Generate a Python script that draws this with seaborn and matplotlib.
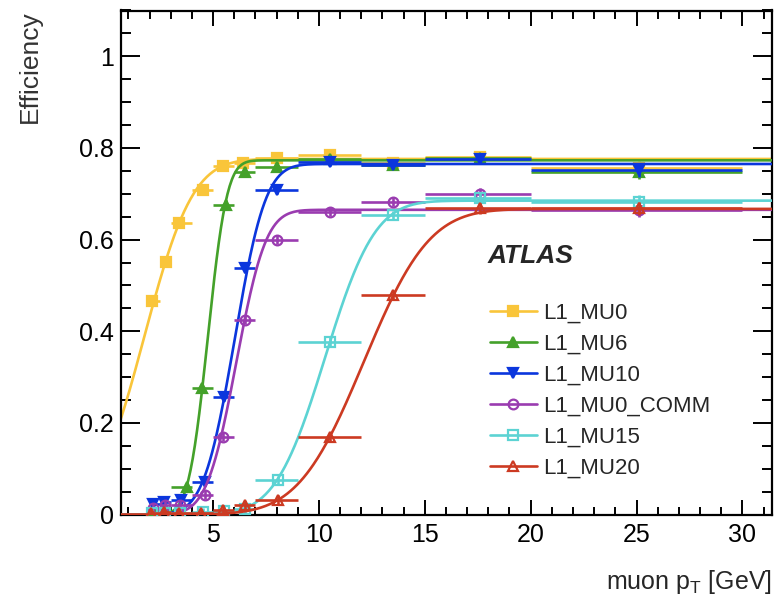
import math
import numpy as np
import pandas as pd
import matplotlib
matplotlib.use("Agg")
import matplotlib.pyplot as plt
import seaborn as sns
from matplotlib.lines import Line2D
from matplotlib.ticker import MultipleLocator

# ---------------- data ----------------
series_names = ["L1_MU0", "L1_MU6", "L1_MU10", "L1_MU0_COMM", "L1_MU15", "L1_MU20"]

bin_lo = [2.0, 2.5, 3.0, 4.0, 5.0, 6.0, 7.0, 9.0, 12.0, 15.0, 20.0]
bin_hi = [2.5, 3.0, 4.0, 5.0, 6.0, 7.0, 9.0, 12.0, 15.0, 20.0, 30.0]

mu0_x = [2.12, 2.78, 3.41, 4.52, 5.46, 6.41, 8.0, 10.52, 13.52, 17.6, 25.1]
mu0_y = [0.466, 0.552, 0.636, 0.709, 0.761, 0.767, 0.778, 0.785, 0.767, 0.781, 0.757]

mu6_x = [2.15, 2.75, 3.77, 4.49, 5.59, 6.49, 8.0, 10.52, 13.52, 17.6, 25.1]
mu6_y = [0.010, 0.015, 0.061, 0.276, 0.676, 0.748, 0.759, 0.775, 0.762, 0.778, 0.748]

mu10_x = [2.15, 2.70, 3.49, 4.60, 5.50, 6.49, 8.0, 10.52, 13.52, 17.6, 25.1]
mu10_y = [0.024, 0.028, 0.032, 0.072, 0.257, 0.538, 0.709, 0.770, 0.763, 0.776, 0.752]

comm_x = [2.15, 2.75, 3.45, 4.60, 5.46, 6.49, 8.0, 10.52, 13.52, 17.6, 25.1]
comm_y = [0.015, 0.020, 0.020, 0.043, 0.170, 0.425, 0.600, 0.661, 0.683, 0.700, 0.665]

mu15_x = [2.10, 2.75, 3.45, 4.50, 5.50, 6.50, 8.07, 10.52, 13.52, 17.6, 25.1]
mu15_y = [0.003, 0.003, 0.003, 0.005, 0.008, 0.012, 0.075, 0.377, 0.653, 0.690, 0.683]

mu20_x = [2.07, 2.70, 3.41, 4.44, 5.47, 6.49, 8.07, 10.52, 13.52, 17.6, 25.1]
mu20_y = [0.003, 0.006, 0.003, 0.003, 0.010, 0.020, 0.032, 0.170, 0.479, 0.668, 0.668]

point_yerr = [0.010, 0.010, 0.010, 0.010, 0.010, 0.010, 0.010, 0.010, 0.010, 0.012, 0.015]

# fitted turn-on curves: plateau, threshold (50% point), resolution
fit_plateau = [0.776, 0.773, 0.765, 0.665, 0.685, 0.667]
fit_mu = [1.75, 4.75, 6.02, 6.10, 10.29, 12.12]
fit_sigma = [1.80, 0.71, 1.15, 1.10, 1.85, 2.43]

colors = ["#F9C53A", "#44A12A", "#0B36DD", "#9A3CB0", "#5CD3D3", "#CC3A22"]
markers = ["s", "^", "v", "o", "s", "^"]
filled = [True, True, True, False, False, False]

xs = [mu0_x, mu6_x, mu10_x, comm_x, mu15_x, mu20_x]
ys = [mu0_y, mu6_y, mu10_y, comm_y, mu15_y, mu20_y]

# ---------------- figure ----------------
sns.set_theme(style="white")
plt.rcParams["font.family"] = ["Liberation Sans", "DejaVu Sans"]

fig = plt.figure(figsize=(7.77, 6.03), dpi=100)
ax = fig.add_axes([121 / 777, 1 - 514.5 / 603, (772 - 121) / 777, (514.5 - 10.5) / 603])

xmin, xmax = 0.65, 31.4
grid = np.linspace(xmin, xmax, 600)
curve_frames = []
for i, name in enumerate(series_names):
    eff = [fit_plateau[i] * 0.5 * (1 + math.erf((g - fit_mu[i]) / (math.sqrt(2) * fit_sigma[i]))) for g in grid]
    curve_frames.append(pd.DataFrame({"pt": grid, "eff": eff, "trigger": name}))
curves = pd.concat(curve_frames, ignore_index=True)

for i, name in enumerate(series_names):
    x = np.array(xs[i])
    y = np.array(ys[i])
    xerr = np.vstack([x - np.array(bin_lo), np.array(bin_hi) - x])
    ax.errorbar(x, y, xerr=xerr, yerr=point_yerr, fmt="none", ecolor=colors[i],
                elinewidth=1.9, capsize=0, zorder=2 + i)
    sns.lineplot(data=curves[curves["trigger"] == name], x="pt", y="eff", ax=ax,
                 color=colors[i], linewidth=1.9, zorder=2 + i, legend=False)
    ax.plot(x, y, linestyle="none", marker=markers[i], markersize=7,
            markerfacecolor=colors[i] if filled[i] else "none",
            markeredgecolor=colors[i], markeredgewidth=1.6, zorder=3 + i)

ax.set_xlim(xmin, xmax)
ax.set_ylim(0, 1.1)
ax.set_xlabel("")
ax.set_ylabel("")
ax.xaxis.set_major_locator(MultipleLocator(5))
ax.xaxis.set_minor_locator(MultipleLocator(1))
ax.yaxis.set_major_locator(MultipleLocator(0.2))
ax.yaxis.set_minor_locator(MultipleLocator(0.05))
ax.set_yticks([0, 0.2, 0.4, 0.6, 0.8, 1.0])
ax.set_yticklabels(["0", "0.2", "0.4", "0.6", "0.8", "1"])
ax.set_xticks([5, 10, 15, 20, 25, 30])
ax.set_xticklabels(["5", "10", "15", "20", "25", "30"])

for s in ax.spines.values():
    s.set_visible(True)
    s.set_color("black")
    s.set_linewidth(1.6)

ax.tick_params(axis="both", which="both", direction="in", top=True, right=True,
               bottom=True, left=True, colors="black", width=1.4)
ax.tick_params(axis="x", which="major", length=11, labelsize=18, pad=6)
ax.tick_params(axis="x", which="minor", length=6)
ax.tick_params(axis="y", which="major", length=14, labelsize=18, pad=5)
ax.tick_params(axis="y", which="minor", length=7)

fig.text(772 / 777, 1 - 582 / 603, r"muon p$_{\mathregular{T}}$ [GeV]", ha="right", va="center", fontsize=18)
fig.text(30 / 777, 1 - 10 / 603, "Efficiency", ha="center", va="top", rotation=90, fontsize=19,
         color="#333333")
fig.text(488 / 777, 1 - 256 / 603, "ATLAS", ha="left", va="center", fontsize=19,
         fontweight="bold", fontstyle="italic")

handles = []
for i in range(len(series_names)):
    handles.append(Line2D([0], [0], color=colors[i], linewidth=1.9, marker=markers[i], markersize=7,
                          markerfacecolor=colors[i] if filled[i] else "none",
                          markeredgecolor=colors[i], markeredgewidth=1.6))
ax.legend(handles, series_names, loc="upper left", bbox_to_anchor=(490 / 777, 1 - 303 / 603),
          bbox_transform=fig.transFigure, frameon=False, fontsize=16, handlelength=2.1,
          handletextpad=0.3, labelspacing=0.45, borderpad=0, borderaxespad=0)

fig.savefig("out.png", dpi=100)
